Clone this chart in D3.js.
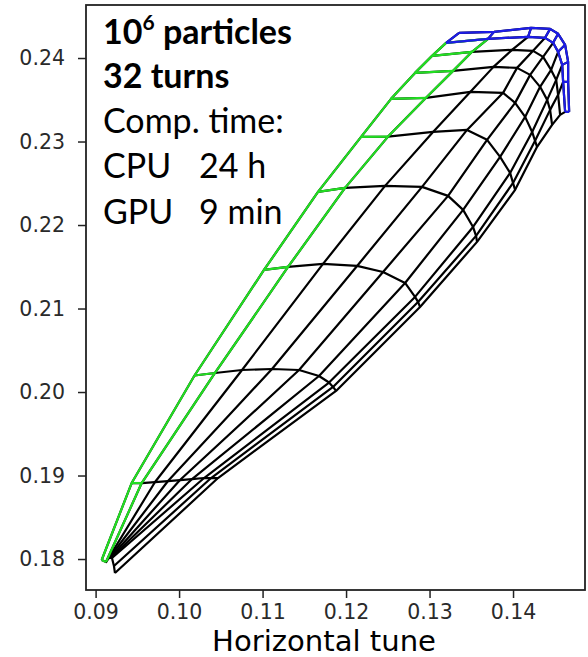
<!DOCTYPE html>
<html>
<head>
<meta charset="utf-8">
<script src="https://cdn.jsdelivr.net/npm/d3@7"></script>
<style>
  body { margin: 0; background: #fff; }
</style>
</head>
<body>
<div id="chart"></div>
<script>
// tune footprint: rays (initial angle) x rings (amplitude)
// qx[ray][ring], qy[ray][ring]
const qx = [
  [0.09073, 0.09432, 0.10185, 0.11017, 0.11664, 0.12180, 0.12539, 0.12826, 0.13030, 0.13198, 0.13354],
  [0.09125, 0.09552, 0.10430, 0.11305, 0.11988, 0.12503, 0.12958, 0.13282, 0.13509, 0.13701, 0.13773],
  [0.09149, 0.09712, 0.10754, 0.11724, 0.12467, 0.13042, 0.13490, 0.13766, 0.13988, 0.14180, 0.14216],
  [0.09161, 0.09867, 0.11113, 0.12132, 0.12910, 0.13449, 0.13881, 0.14048, 0.14240, 0.14384, 0.14444],
  [0.09173, 0.10011, 0.11437, 0.12443, 0.13222, 0.13689, 0.14025, 0.14205, 0.14360, 0.14480, 0.14540],
  [0.09184, 0.10155, 0.11676, 0.12707, 0.13402, 0.13845, 0.14145, 0.14324, 0.14456, 0.14540, 0.14624],
  [0.09196, 0.10299, 0.11796, 0.12826, 0.13521, 0.13965, 0.14229, 0.14409, 0.14517, 0.14589, 0.14660],
  [0.09220, 0.10383, 0.11844, 0.12862, 0.13557, 0.14000, 0.14264, 0.14444, 0.14540, 0.14600, 0.14660],
  [0.09232, 0.10466, 0.11880, 0.12886, 0.13569, 0.14025, 0.14288, 0.14468, 0.14564, 0.14624, 0.14672]
];
const qy = [
  [0.17988, 0.18910, 0.20198, 0.21462, 0.22397, 0.23056, 0.23511, 0.23822, 0.24026, 0.24182, 0.24301],
  [0.17964, 0.18910, 0.20228, 0.21498, 0.22445, 0.23059, 0.23523, 0.23846, 0.24074, 0.24230, 0.24313],
  [0.18000, 0.18922, 0.20264, 0.21534, 0.22469, 0.23115, 0.23595, 0.23894, 0.24098, 0.24254, 0.24361],
  [0.18012, 0.18934, 0.20276, 0.21510, 0.22457, 0.23139, 0.23583, 0.23882, 0.24086, 0.24242, 0.24349],
  [0.18012, 0.18946, 0.20264, 0.21438, 0.22349, 0.23020, 0.23463, 0.23798, 0.24014, 0.24182, 0.24290],
  [0.18012, 0.18958, 0.20192, 0.21306, 0.22181, 0.22816, 0.23295, 0.23655, 0.23858, 0.24074, 0.24158],
  [0.18012, 0.18970, 0.20114, 0.21139, 0.21977, 0.22624, 0.23115, 0.23499, 0.23738, 0.23918, 0.23954],
  [0.17916, 0.18970, 0.20061, 0.21079, 0.21870, 0.22504, 0.23008, 0.23379, 0.23559, 0.23714, 0.23714],
  [0.17832, 0.18970, 0.20013, 0.21019, 0.21798, 0.22421, 0.22936, 0.23199, 0.23319, 0.23355, 0.23355]
];

const xTicks = [0.09, 0.10, 0.11, 0.12, 0.13, 0.14];
const yTicks = [0.18, 0.19, 0.20, 0.21, 0.22, 0.23, 0.24];

const noteLines = [
  {text: "10", sup: "6", rest: " particles", bold: true},
  {text: "32 turns", bold: true},
  {text: "Comp. time:", bold: false},
  {text: "CPU", val: "24 h", bold: false},
  {text: "GPU", val: "9 min", bold: false}
];

const width = 588, height = 657;
const margin = {top: 5, right: 3, bottom: 67, left: 86};
const innerW = width - margin.left - margin.right;
const innerH = height - margin.top - margin.bottom;

const svg = d3.select("#chart").append("svg")
    .attr("width", width)
    .attr("height", height);

const g = svg.append("g")
    .attr("transform", `translate(${margin.left},${margin.top})`);

const x = d3.scaleLinear().domain([0.08885, 0.14862]).range([0, innerW]);
const y = d3.scaleLinear().domain([0.17629, 0.24635]).range([innerH, 0]);

const line = d3.line().x(d => x(d[0])).y(d => y(d[1]));

const nRays = qx.length;
const nRings = qx[0].length;

function rayPts(j, i0, i1) {
    let pts = [];
    for (let i = i0; i <= i1; i++) pts.push([qx[j][i], qy[j][i]]);
    return pts;
}
function ringPts(i, j0, j1) {
    let pts = [];
    for (let j = j0; j <= j1; j++) pts.push([qx[j][i], qy[j][i]]);
    return pts;
}

// black mesh
let black = [];
for (let j = 0; j < nRays; j++) black.push(rayPts(j, 0, nRings - 1));
for (let i = 0; i < nRings; i++) black.push(ringPts(i, 0, nRays - 1));

// green: first column of cells
let green = [rayPts(0, 0, nRings - 2), rayPts(1, 0, nRings - 2)];
for (let i = 0; i < nRings - 1; i++) green.push(ringPts(i, 0, 1));

// blue: last row of cells
let blue = [ringPts(nRings - 2, 0, nRays - 1), ringPts(nRings - 1, 0, nRays - 1)];
for (let j = 0; j < nRays; j++) blue.push(rayPts(j, nRings - 2, nRings - 1));

const layers = [
    {cls: "black", data: black, color: "#000000"},
    {cls: "green", data: green, color: "#22dd22"},
    {cls: "blue", data: blue, color: "#1c1ce6"}
];

layers.forEach(function(l) {
    g.append("g").attr("class", l.cls)
        .selectAll("path")
        .data(l.data)
        .enter()
        .append("path")
        .attr("d", line)
        .attr("fill", "none")
        .attr("stroke", l.color)
        .attr("stroke-width", 2.2)
        .attr("stroke-linejoin", "round");
});

// axes
const xAxis = g.append("g")
    .attr("transform", `translate(0,${innerH})`)
    .call(d3.axisBottom(x).tickValues(xTicks).tickFormat(d3.format(".2f")).tickSize(8).tickPadding(5));
const yAxis = g.append("g")
    .call(d3.axisLeft(y).tickValues(yTicks).tickFormat(d3.format(".2f")).tickSize(8).tickPadding(13));

[xAxis, yAxis].forEach(a => {
    a.select(".domain").remove();
    a.selectAll(".tick line").attr("stroke", "#222").attr("stroke-width", 1.5);
    a.selectAll(".tick text")
        .attr("font-family", "DejaVu Sans")
        .attr("font-size", 20.5)
        .attr("fill", "#2a2a2a");
});
xAxis.selectAll(".tick text").attr("dy", "0.76em");

g.append("rect")
    .attr("x", 0)
    .attr("y", 0)
    .attr("width", innerW)
    .attr("height", innerH)
    .attr("fill", "none")
    .attr("stroke", "#222")
    .attr("stroke-width", 1.8);

svg.append("text")
    .text("Horizontal tune")
    .attr("x", 324)
    .attr("y", 651)
    .attr("text-anchor", "middle")
    .attr("font-family", "DejaVu Sans")
    .attr("font-size", 28)
    .attr("textLength", 224)
    .attr("lengthAdjust", "spacingAndGlyphs")
    .attr("fill", "#000");

// annotation text block
const note = svg.append("g")
    .attr("font-family", "Lato, 'Open Sans', sans-serif")
    .attr("font-size", 34)
    .attr("fill", "#000");

const baseY = [44, 88, 133, 178, 224];
noteLines.forEach(function(d, k) {
    let t = note.append("text")
        .attr("x", 103)
        .attr("y", baseY[k])
        .attr("font-weight", d.bold ? "bold" : "normal");
    t.append("tspan").text(d.text);
    if (d.sup) {
        t.append("tspan").text(d.sup).attr("font-size", 21).attr("dy", -14);
        t.append("tspan").text(d.rest).attr("dy", 14);
    }
    if (d.val) {
        note.append("text")
            .attr("x", 199)
            .attr("y", baseY[k])
            .text(d.val);
    }
});
</script>
</body>
</html>
